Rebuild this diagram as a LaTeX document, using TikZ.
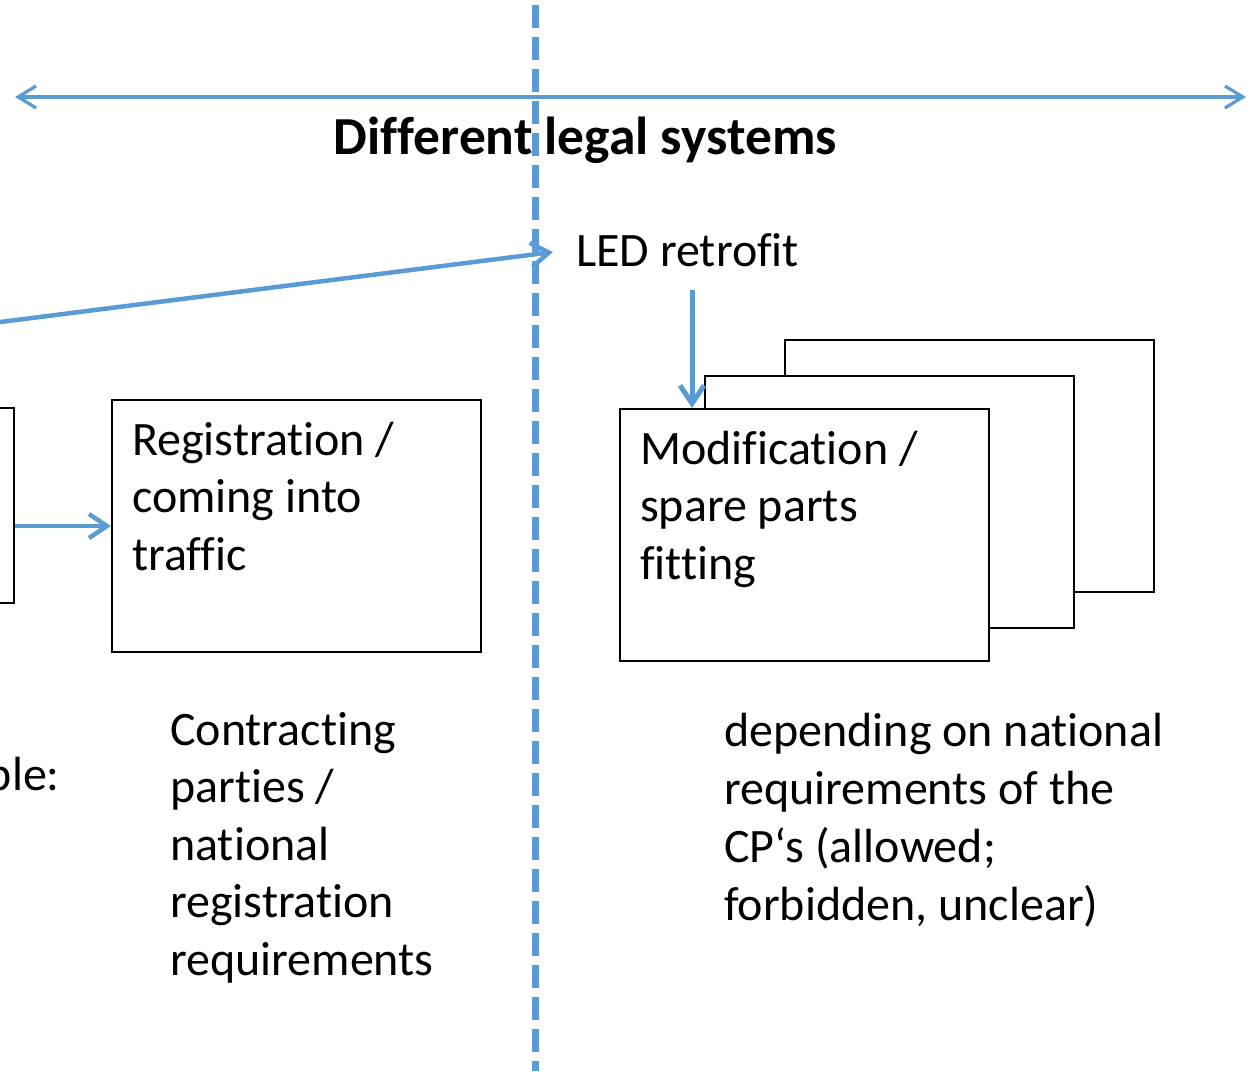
\documentclass[tikz,border=0pt]{standalone}
\usepackage{fontspec}
\setmainfont{Carlito}[Ligatures=NoCommon]
\usetikzlibrary{arrows.meta}
\definecolor{oblue}{RGB}{91,155,213}
\newcommand{\mylines}[1]{\begin{tabular}[t]{@{}l@{}}#1\end{tabular}}
\begin{document}
\begin{tikzpicture}[x=1pt,y=-1pt,
  box/.style={draw=black, line width=2pt, fill=white, inner sep=0pt, minimum width=369pt, minimum height=252pt},
  conn/.style={draw=oblue, line width=4.5pt, -{Straight Barb[length=18pt,width=24pt]}},
  txt/.style={anchor=base west, inner sep=0pt, font=\fontsize{48}{57.5}\selectfont},
  title/.style={anchor=base, inner sep=0pt, font=\fontsize{53.5}{60}\selectfont\bfseries},
  divider/.style={draw=oblue, line width=7pt, dash pattern=on 23pt off 9pt, dash phase=27pt},
]
\useasboundingbox (0,0) rectangle (1253,1071);
\clip (0,0) rectangle (1253,1071);

% span arrow
\coordinate (spanL) at (15,97);
\coordinate (spanR) at (1246,97);
\draw[draw=oblue, line width=3.2pt, {Straight Barb[length=18pt,width=22pt]}-{Straight Barb[length=18pt,width=22pt]}] (spanL) -- (spanR);

% divider
\coordinate (divT) at (535,0);
\coordinate (divB) at (535,1071);
\draw[divider] (divT) -- (divB);

% title
\node[title] (title) at (585.5,154) {Different legal systems};

% LED retrofit
\node[txt] (led) at (576,266) {LED retrofit};
\coordinate (ledsrc) at (-100,334.7);
\coordinate (ledtip) at (553,252);
\draw[conn] (ledsrc) -- (ledtip);

% stacked boxes
\node[box] (back) at (969.5,465.5) {};
\node[box] (mid) at (889,502) {};
\node[box] (front) at (804.5,535) {};
\node[txt] (fronttext) at (640,464) {\mylines{Modification /\\spare parts\\fitting}};
\coordinate (dstart) at (692,290);
\draw[conn, line width=5pt] (dstart) -- (dstart |- front.north);

% left partial box and registration
\node[box, minimum width=300pt, minimum height=195pt] (left) at (-136,505.5) {};
\node[box] (reg) at (296.5,526) {};
\node[txt] (regtext) at (132,455) {\mylines{Registration /\\coming into\\traffic}};
\draw[conn] (left.east |- reg.west) -- (reg.west);

% lower texts
\node[txt, anchor=base east] (ple) at (60,790) {ple:};
\node[txt] (cp) at (170,745) {\mylines{Contracting\\parties /\\national\\registration\\requirements}};
\node[txt, font=\fontsize{48}{58}\selectfont] (dep) at (724,746) {\mylines{depending on national\\requirements of the\\CP‘s (allowed;\\forbidden, unclear)}};
\end{tikzpicture}
\end{document}
